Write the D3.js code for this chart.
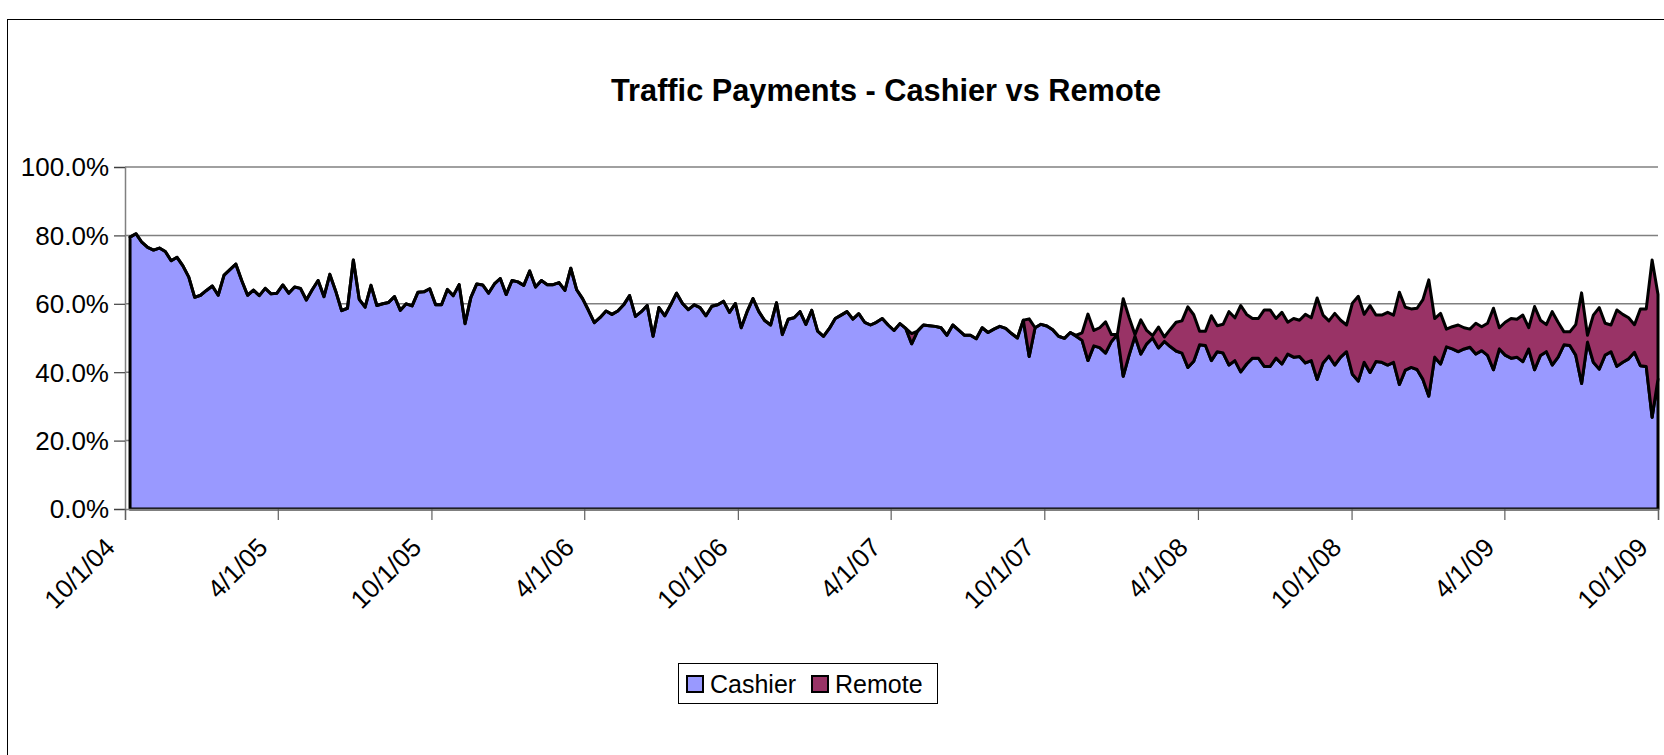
<!DOCTYPE html>
<html><head><meta charset="utf-8">
<script src="https://cdn.jsdelivr.net/npm/d3@7"></script>
<style>html,body{margin:0;padding:0;background:#fff;overflow:hidden}svg{display:block}</style>
</head><body>
<svg id="chart" width="1664" height="755"></svg>
<script>
const chartTitle = "Traffic Payments - Cashier vs Remote";
const seriesNames = ["Cashier", "Remote"];
const seriesColors = ["#9999FF", "#993366"];
const firstWeek = "2004-10-07";   // weekly observations, one every 7 days
const yTickValues = [0, 20, 40, 60, 80, 100];
const xTickLabels = ["10/1/04","4/1/05","10/1/05","4/1/06","10/1/06","4/1/07","10/1/07","4/1/08","10/1/08","4/1/09","10/1/09"];

const cashier = [
79.5,80.5,78.0,76.5,75.7,76.3,75.3,72.6,73.6,71.1,
67.8,61.9,62.5,63.9,65.2,62.5,68.4,70.0,71.6,66.8,
62.5,64.0,62.4,64.5,62.9,63.1,65.5,63.1,64.9,64.5,
61.1,64.1,66.8,62.1,68.6,63.7,58.0,58.7,72.8,61.3,
59.0,65.4,59.5,60.0,60.4,62.1,58.1,60.0,59.4,63.4,
63.5,64.4,59.7,59.7,64.2,62.4,65.6,54.2,61.9,65.8,
65.5,63.1,65.8,67.4,62.7,66.8,66.4,65.4,69.6,64.9,
66.8,65.6,65.6,66.2,63.9,70.4,64.1,61.5,58.1,54.5,
56.0,57.9,56.9,57.9,59.7,62.4,56.3,57.7,59.5,50.5,
58.9,56.5,59.7,63.1,60.1,58.3,59.7,58.9,56.5,59.3,
59.7,60.7,57.5,60.1,53.0,57.7,61.5,57.7,55.1,53.8,
60.3,51.0,55.5,55.9,57.7,54.0,58.1,52.0,50.5,52.8,
55.7,56.7,57.7,55.5,57.1,54.6,53.8,54.6,55.7,53.8,
52.2,54.2,52.8,48.3,52.0,53.8,53.6,53.4,53.0,50.8,
53.8,52.3,50.8,50.8,49.8,53.0,51.6,52.6,53.4,52.8,
51.3,50.0,55.2,44.6,53.0,54.0,53.5,52.4,50.5,49.9,
51.6,50.5,49.3,43.4,47.7,47.2,45.6,49.0,51.0,38.8,
45.0,50.5,45.3,48.3,50.0,47.1,49.0,47.5,46.2,45.6,
41.4,43.2,48.0,47.8,43.4,46.0,45.6,42.1,43.4,40.1,
42.4,44.1,44.1,41.7,41.7,44.1,42.4,45.3,44.4,44.6,
42.7,43.4,37.9,42.7,44.7,42.1,44.4,46.0,39.4,37.4,
42.9,39.9,43.1,42.9,42.1,42.9,36.4,40.6,41.4,40.8,
37.9,33.0,44.4,42.4,47.4,46.8,46.0,46.8,47.3,45.3,
46.3,44.9,40.7,46.8,45.0,44.1,44.4,43.1,46.8,40.7,
44.9,46.0,42.1,44.4,48.0,47.8,45.0,36.7,48.8,42.9,
40.9,45.0,46.0,41.7,42.9,43.9,45.8,41.9,41.7,26.8,
38.0
];

const remote = [
0,0,0,0,0,0,0,0,0,0, 0,0,0,0,0,0,0,0,0,0,
0,0,0,0,0,0,0,0,0,0, 0,0,0,0,0,0,0,0,0,0,
0,0,0,0,0,0,0,0,0,0, 0,0,0,0,0,0,0,0,0,0,
0,0,0,0,0,0,0,0,0,0, 0,0,0,0,0,0,0,0,0,0,
0,0,0,0,0,0,0,0,0,0, 0,0,0,0,0,0,0,0,0,0,
0,0,0,0,0,0,0,0,0,0, 0,0,0,0,0,0,0,0,0,0,
0,0,0,0,0,0,0,0,0,0, 0,0,0,
3.0,0,0,0,0,0,0,
0,0,0,0,0,0,0,0,0,0,
0,0,0,11.0,0,0,0,0,0,0,
0,0.3,2.2,13.6,4.5,5.8,9.1,2.0,0,22.7,
11.0,0.5,10.0,3.9,0.7,6.1,1.3,5.0,8.4,9.4,
17.7,13.6,4.0,4.2,13.1,7.6,8.4,15.6,12.5,19.4,
14.5,11.6,11.6,16.5,16.5,11.6,15.1,9.3,11.3,10.6,
14.2,12.5,23.8,14.0,10.3,15.1,10.8,7.8,20.8,24.8,
14.0,19.6,13.6,13.8,15.4,13.8,27.0,18.4,17.1,17.9,
23.3,34.0,11.3,14.8,5.2,6.5,7.8,6.2,5.3,9.0,
7.0,9.4,18.0,6.2,9.6,11.6,11.1,13.6,6.2,18.5,
10.3,7.9,15.6,10.2,3.8,4.0,8.9,26.5,2.0,13.8,
18.0,9.3,7.8,16.5,14.0,12.0,8.1,16.6,16.8,46.0,
24.7
];

const svg = d3.select("#chart");
const FONT = "'Liberation Sans', Arial, Helvetica, sans-serif";
const plot = {left: 125, right: 1658, top: 167, bottom: 509};

const parseTick = d3.timeParse("%m/%d/%y");
const tickDates = xTickLabels.map(parseTick);
const start = d3.timeParse("%Y-%m-%d")(firstWeek);
const rows = cashier.map((c, i) => ({date: d3.timeDay.offset(start, 7 * i), Cashier: c, Remote: remote[i]}));

const x = d3.scaleTime().domain([tickDates[0], tickDates[tickDates.length - 1]]).range([plot.left, plot.right]);
const y = d3.scaleLinear().domain([0, 100]).range([plot.bottom, plot.top]);

// chart area border
svg.append("rect").attr("x", 7.5).attr("y", 19.5).attr("width", 1700).attr("height", 800)
  .attr("fill", "#fff").attr("stroke", "#000").attr("stroke-width", 1);

// title
svg.append("text").attr("x", 886).attr("y", 101).attr("text-anchor", "middle")
  .attr("font-family", FONT).attr("font-weight", "bold").attr("font-size", 32)
  .attr("textLength", 550).attr("lengthAdjust", "spacingAndGlyphs")
  .text(chartTitle);

// gridlines
svg.append("g").selectAll("line").data(yTickValues.filter(v => v > 0)).join("line")
  .attr("x1", plot.left).attr("x2", plot.right)
  .attr("y1", d => y(d)).attr("y2", d => y(d))
  .attr("stroke", "#808080").attr("stroke-width", 1.5);

// stacked areas
const stack = d3.stack().keys(seriesNames);
const layers = stack(rows);
const area = d3.area().x(d => x(d.data.date)).y0(d => y(d[0])).y1(d => y(d[1]));
svg.append("g").selectAll("path").data(layers).join("path")
  .attr("d", area)
  .attr("fill", (d, i) => seriesColors[i])
  .attr("stroke", "#000").attr("stroke-width", 3).attr("stroke-linejoin", "round");

// y axis
const yAxis = d3.axisLeft(y).tickValues(yTickValues).tickSize(11).tickPadding(5)
  .tickFormat(d => d3.format(".1f")(d) + "%");
const gy = svg.append("g").attr("transform", `translate(${plot.left},0)`).call(yAxis);
gy.select(".domain").attr("stroke", "#808080").attr("stroke-width", 1.5);
gy.selectAll(".tick line").attr("stroke", "#404040").attr("stroke-width", 1.2);
gy.selectAll(".tick text").attr("font-family", FONT).attr("font-size", 26).attr("fill", "#000")
  .attr("dy", "0.34em");

// x axis
const xAxis = d3.axisBottom(x).tickValues(tickDates).tickSize(11)
  .tickFormat((d, i) => xTickLabels[i]);
const gx = svg.append("g").attr("transform", `translate(0,${plot.bottom})`).call(xAxis);
gx.select(".domain").attr("stroke", "#808080").attr("stroke-width", 1.5);
gx.selectAll(".tick line").attr("stroke", "#606060").attr("stroke-width", 1.2);
gx.selectAll(".tick text").attr("font-family", FONT).attr("font-size", 26).attr("fill", "#000")
  .attr("text-anchor", "end").attr("dy", 0).attr("y", 0)
  .attr("transform", "translate(-9,40) rotate(-45)");

// legend
const lg = svg.append("g");
lg.append("rect").attr("x", 678.5).attr("y", 663.5).attr("width", 259).attr("height", 40)
  .attr("fill", "#fff").attr("stroke", "#000").attr("stroke-width", 1);
const legendItems = [{name: seriesNames[0], color: seriesColors[0], sx: 687, tx: 710},
                     {name: seriesNames[1], color: seriesColors[1], sx: 812, tx: 835}];
legendItems.forEach(it => {
  lg.append("rect").attr("x", it.sx).attr("y", 676).attr("width", 16).attr("height", 16)
    .attr("fill", it.color).attr("stroke", "#000").attr("stroke-width", 2);
  lg.append("text").attr("x", it.tx).attr("y", 692.5).attr("font-family", FONT).attr("font-size", 25)
    .attr("fill", "#000").text(it.name);
});
</script>
</body></html>
